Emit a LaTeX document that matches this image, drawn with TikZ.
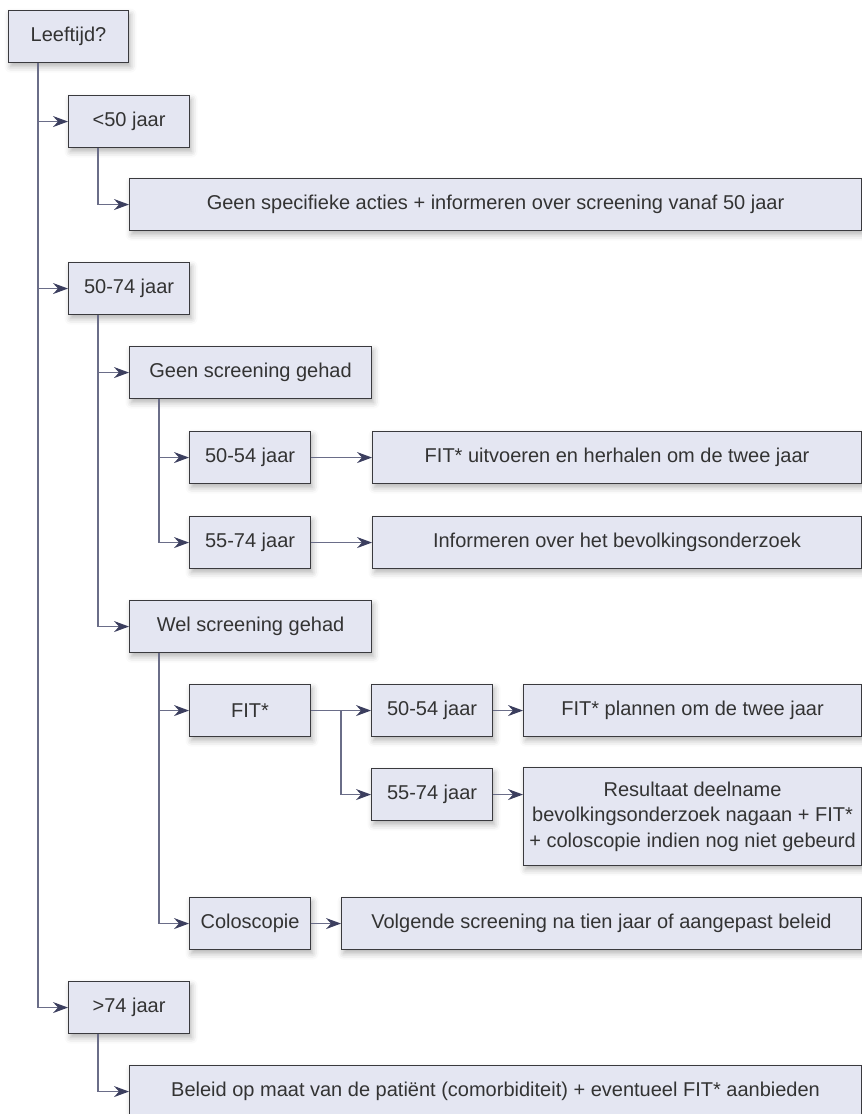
\documentclass[tikz,border=0pt]{standalone}
\usepackage{fontspec}
\setmainfont{Liberation Sans}
\usepackage{tikz}
\usetikzlibrary{arrows.meta, calc, shadows.blur}
\definecolor{boxfill}{HTML}{E4E6F2}
\definecolor{boxline}{HTML}{3A3A3E}
\definecolor{linkline}{HTML}{6A6D88}
\definecolor{linktip}{HTML}{3B3E5E}
\definecolor{boxtext}{HTML}{333333}
\tikzstyle{block} = [rectangle, anchor=north west, minimum height=52pt, inner sep=0pt, align=center, text=boxtext, draw=boxline, line width=1.1pt, fill=boxfill, font=\fontsize{20}{25.5}\selectfont, blur shadow={shadow xshift=2pt, shadow yshift=-4pt, shadow blur radius=6pt, shadow opacity=30}]
\tikzstyle{arrow} = [line width=1.2pt, draw=linkline, -{Stealth[length=15pt, width=11pt, inset=5pt, color=linktip]}]

\begin{document}
\begin{tikzpicture}[x=1pt, y=-1pt]
\useasboundingbox (0,0) rectangle (862,1114);

% Nodes
\node (age) [block, minimum width=120pt] at (8,10) {Leeftijd?};
\node (lt50) [block, minimum width=121pt] at (68,95) {<50 jaar};
\node (lt50act) [block, minimum width=732pt] at (129,178) {Geen specifieke acties + informeren over screening vanaf 50 jaar};
\node (a5074) [block, minimum width=121pt] at (68,262) {50-74 jaar};
\node (geenscr) [block, minimum width=242pt] at (129,346) {Geen screening gehad};
\node (g5054) [block, minimum width=121pt] at (189,431) {50-54 jaar};
\node (g5054act) [block, minimum width=489pt] at (372,431) {FIT* uitvoeren en herhalen om de twee jaar};
\node (g5574) [block, minimum width=121pt] at (189,516) {55-74 jaar};
\node (g5574act) [block, minimum width=489pt] at (372,516) {Informeren over het bevolkingsonderzoek};
\node (welscr) [block, minimum width=242pt] at (129,600) {Wel screening gehad};
\node (fit) [block, minimum width=121pt] at (189,684) {FIT*};
\node (fit5054) [block, minimum width=121pt] at (371,684) {50-54 jaar};
\node (fit5054act) [block, minimum width=338pt] at (523,684) {FIT* plannen om de twee jaar};
\node (fit5574) [block, minimum width=121pt] at (371,768) {55-74 jaar};
\node (fit5574act) [block, minimum width=338pt, minimum height=98pt] at (523,767) {Resultaat deelname\\bevolkingsonderzoek nagaan + FIT*\\+ coloscopie indien nog niet gebeurd};
\node (colo) [block, minimum width=121pt] at (189,897) {Coloscopie};
\node (coloact) [block, minimum width=520pt] at (341,897) {Volgende screening na tien jaar of aangepast beleid};
\node (gt74) [block, minimum width=121pt] at (68,981) {>74 jaar};
\node (gt74act) [block, minimum width=732pt] at (129,1065) {Beleid op maat van de patiënt (comorbiditeit) + eventueel FIT* aanbieden};

% Arrows
\draw [arrow] ([xshift=30pt]age.south west) |- (lt50.west);
\draw [arrow] ([xshift=30pt]age.south west) |- (a5074.west);
\draw [arrow] ([xshift=30pt]age.south west) |- (gt74.west);
\draw [arrow] ([xshift=30pt]lt50.south west) |- (lt50act.west);
\draw [arrow] ([xshift=30pt]a5074.south west) |- (geenscr.west);
\draw [arrow] ([xshift=30pt]a5074.south west) |- (welscr.west);
\draw [arrow] ([xshift=30pt]geenscr.south west) |- (g5054.west);
\draw [arrow] ([xshift=30pt]geenscr.south west) |- (g5574.west);
\draw [arrow] (g5054) -- (g5054act);
\draw [arrow] (g5574) -- (g5574act);
\draw [arrow] ([xshift=30pt]welscr.south west) |- (fit.west);
\draw [arrow] ([xshift=30pt]welscr.south west) |- (colo.west);
\draw [arrow] (fit) -- (fit5054);
\draw [arrow] ($(fit.east)!0.5!(fit5054.west)$) |- (fit5574.west);
\draw [arrow] (fit5054) -- (fit5054act);
\draw [arrow] (fit5574.east) -- (fit5574act.west |- fit5574.east);
\draw [arrow] (colo) -- (coloact);
\draw [arrow] ([xshift=30pt]gt74.south west) |- (gt74act.west);

\end{tikzpicture}
\end{document}
